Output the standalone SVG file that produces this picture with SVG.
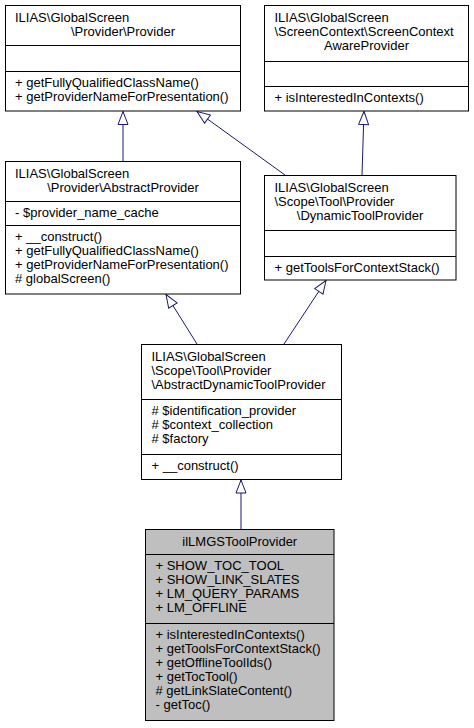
<svg xmlns="http://www.w3.org/2000/svg" width="474" height="728" viewBox="0 0 474 728">
<style>
.box{fill:#ffffff;stroke:#000000;stroke-width:1}
.cur{fill:#bfbfbf;stroke:#000000;stroke-width:1}
.div{stroke:#000000;stroke-width:1}
text{font-family:"Liberation Sans",Arial,Helvetica,sans-serif;font-size:13px;fill:#000000}
.c{text-anchor:middle}
.edge{stroke:#191970;stroke-width:1;fill:none}
</style>
<defs>
<marker id="inh" markerUnits="userSpaceOnUse" viewBox="0 0 14 11" refX="13.5" refY="5.5" markerWidth="14" markerHeight="11" orient="auto" overflow="visible">
<path d="M0.5,0.5 L13.5,5.5 L0.5,10.5 Z" fill="#ffffff" stroke="#191970" stroke-width="1"/>
</marker>
</defs>
<rect width="474" height="728" fill="#ffffff"/>
<g id="connectors">
<line class="edge" x1="123" y1="161" x2="123" y2="111.5" marker-end="url(#inh)"/>
<line class="edge" x1="285" y1="175" x2="197" y2="111.5" marker-end="url(#inh)"/>
<line class="edge" x1="362" y1="175" x2="364" y2="111.5" marker-end="url(#inh)"/>
<line class="edge" x1="197" y1="344" x2="166" y2="294.5" marker-end="url(#inh)"/>
<line class="edge" x1="284" y1="344" x2="326" y2="280.5" marker-end="url(#inh)"/>
<line class="edge" x1="241" y1="529" x2="241" y2="480" marker-end="url(#inh)"/>
</g>
<g id="Provider">
<rect class="box" x="5.5" y="5.5" width="235" height="105.5"/>
<line class="div" x1="5.5" y1="45.5" x2="240.5" y2="45.5"/>
<line class="div" x1="5.5" y1="71.5" x2="240.5" y2="71.5"/>
<text x="15" y="22">ILIAS\GlobalScreen</text>
<text class="c" x="123" y="36">\Provider\Provider</text>
<text x="15" y="86.5">+ getFullyQualifiedClassName()</text>
<text x="15" y="100.5">+ getProviderNameForPresentation()</text>
</g>
<g id="ScreenContextAwareProvider">
<rect class="box" x="264.5" y="5.5" width="204" height="105.5"/>
<line class="div" x1="264.5" y1="61.5" x2="468.5" y2="61.5"/>
<line class="div" x1="264.5" y1="86.5" x2="468.5" y2="86.5"/>
<text x="274.5" y="22">ILIAS\GlobalScreen</text>
<text x="274.5" y="36">\ScreenContext\ScreenContext</text>
<text class="c" x="366.5" y="50">AwareProvider</text>
<text x="274.5" y="102">+ isInterestedInContexts()</text>
</g>
<g id="AbstractProvider">
<rect class="box" x="5.5" y="161.5" width="235" height="132.5"/>
<line class="div" x1="5.5" y1="201.5" x2="240.5" y2="201.5"/>
<line class="div" x1="5.5" y1="225.5" x2="240.5" y2="225.5"/>
<text x="15" y="178">ILIAS\GlobalScreen</text>
<text class="c" x="123" y="192">\Provider\AbstractProvider</text>
<text x="15" y="216.5">- $provider_name_cache</text>
<text x="15" y="241">+ __construct()</text>
<text x="15" y="255">+ getFullyQualifiedClassName()</text>
<text x="15" y="269">+ getProviderNameForPresentation()</text>
<text x="15" y="283"># globalScreen()</text>
</g>
<g id="DynamicToolProvider">
<rect class="box" x="264.5" y="175.5" width="191.5" height="104.5"/>
<line class="div" x1="264.5" y1="230.5" x2="456" y2="230.5"/>
<line class="div" x1="264.5" y1="256.5" x2="456" y2="256.5"/>
<text x="274.5" y="191.5">ILIAS\GlobalScreen</text>
<text x="274.5" y="205.5">\Scope\Tool\Provider</text>
<text class="c" x="360" y="219.5">\DynamicToolProvider</text>
<text x="274.5" y="271.5">+ getToolsForContextStack()</text>
</g>
<g id="AbstractDynamicToolProvider">
<rect class="box" x="141.5" y="344.5" width="200" height="135"/>
<line class="div" x1="141.5" y1="399.5" x2="341.5" y2="399.5"/>
<line class="div" x1="141.5" y1="454.5" x2="341.5" y2="454.5"/>
<text x="151.5" y="361">ILIAS\GlobalScreen</text>
<text x="151.5" y="375">\Scope\Tool\Provider</text>
<text x="151.5" y="389">\AbstractDynamicToolProvider</text>
<text x="151.5" y="414.5"># $identification_provider</text>
<text x="151.5" y="428.5"># $context_collection</text>
<text x="151.5" y="442.5"># $factory</text>
<text x="151.5" y="469.5">+ __construct()</text>
</g>
<g id="ilLMGSToolProvider">
<rect class="cur" x="145.5" y="529.5" width="188.5" height="191"/>
<line class="div" x1="145.5" y1="554.5" x2="334" y2="554.5"/>
<line class="div" x1="145.5" y1="623.5" x2="334" y2="623.5"/>
<text class="c" x="239.75" y="546">ilLMGSToolProvider</text>
<text x="155.5" y="569.5">+ SHOW_TOC_TOOL</text>
<text x="155.5" y="583.5">+ SHOW_LINK_SLATES</text>
<text x="155.5" y="597.5">+ LM_QUERY_PARAMS</text>
<text x="155.5" y="611.5">+ LM_OFFLINE</text>
<text x="155.5" y="638.5">+ isInterestedInContexts()</text>
<text x="155.5" y="652.5">+ getToolsForContextStack()</text>
<text x="155.5" y="666.5">+ getOfflineToolIds()</text>
<text x="155.5" y="680.5">+ getTocTool()</text>
<text x="155.5" y="694.5"># getLinkSlateContent()</text>
<text x="155.5" y="708.5">- getToc()</text>
</g>
</svg>
